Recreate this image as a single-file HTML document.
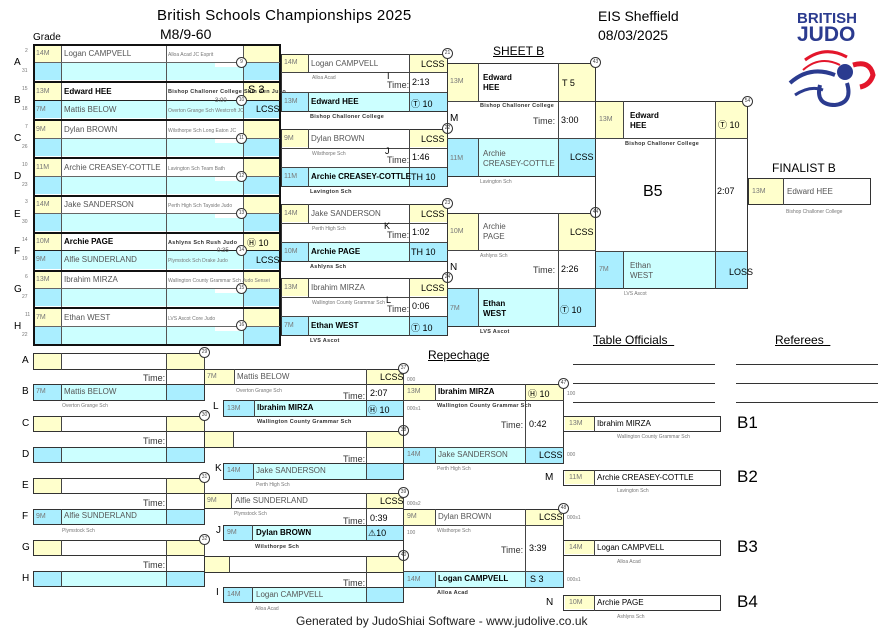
<!DOCTYPE html>
<html><head><meta charset="utf-8"><style>
*{margin:0;padding:0;box-sizing:border-box}
body{width:891px;height:630px;background:#fff;position:relative;overflow:hidden;font-family:"Liberation Sans","DejaVu Sans",sans-serif;color:#000}
div,span{position:absolute}
.y{background:#ffffcc}.c{background:#ccffff}.bl{background:#aaeeff}.w{background:#fff}
.bx{border:1px solid #333}
.g{font-size:7px;color:#777;padding-left:2px;line-height:18px}
.n{font-size:8px;color:#555;padding-left:3px;white-space:nowrap}
.nb{font-size:8px;font-weight:bold;color:#000;padding-left:3px;white-space:nowrap}
.s{font-size:5px;color:#555;white-space:nowrap}
.sb{font-size:5.5px;font-weight:bold;color:#333;white-space:nowrap;letter-spacing:.3px}
.cl{font-size:5px;color:#777;white-space:nowrap}
.ci{width:11px;height:11px;border:1px solid #333;border-radius:50%;background:#fff;font-size:5px;text-align:center;line-height:9px;color:#444}
.vl{width:1px;background:#444}
.hl{height:1px;background:#444}
.L{font-size:10px}
.t{font-size:9px;color:#333}
.sc{font-size:9px}
.tn{font-size:5px;color:#777}
</style></head><body>

<!-- header -->
<span style="left:157px;top:7px;font-size:15px;letter-spacing:.3px">British Schools Championships 2025</span>
<span style="left:160px;top:26px;font-size:14px">M8/9-60</span>
<span style="left:598px;top:8px;font-size:14px">EIS Sheffield</span>
<span style="left:598px;top:27px;font-size:14px">08/03/2025</span>
<span style="left:33px;top:32px;font-size:10px">Grade</span>
<span style="left:493px;top:44px;font-size:12px;text-decoration:underline">SHEET B</span>
<span style="left:797px;top:11px;font-size:15px;font-weight:bold;color:#2b3b8f;line-height:15px">BRITISH</span>
<span style="left:797px;top:24px;font-size:21px;font-weight:bold;color:#2b3b8f;line-height:21px">JUDO</span>
<svg style="position:absolute;left:785px;top:45px" width="95" height="65" viewBox="0 0 95 65">
<path d="M20 15 Q40 0 62 12" stroke="#e3162b" stroke-width="3" fill="none"/>
<path d="M18 25 Q35 10 55 20" stroke="#e3162b" stroke-width="2" fill="none"/>
<path d="M5 38 Q25 20 50 30" stroke="#2b3b8f" stroke-width="4" fill="none"/>
<path d="M35 40 Q30 60 50 60 Q68 58 62 38" stroke="#2b3b8f" stroke-width="4" fill="none"/>
<circle cx="60" cy="27" r="8" fill="#2b3b8f"/>
<path d="M68 20 Q85 15 88 30 Q85 40 75 42" stroke="#e3162b" stroke-width="5" fill="none"/>
<path d="M10 50 Q25 40 38 45" stroke="#2b3b8f" stroke-width="3" fill="none"/>
</svg>

<!-- POOL -->
<div style="left:33px;top:44px;width:248px;height:302px;border:2px solid #111"></div>
<!-- rows generated manually -->
<!-- A -->
<div class="y" style="left:35px;top:46px;width:26px;height:16px"></div>
<div class="y" style="left:243px;top:46px;width:36px;height:16px"></div>
<div class="bl" style="left:35px;top:63px;width:26px;height:17px"></div>
<div class="c" style="left:61px;top:63px;width:182px;height:17px"></div>
<div class="bl" style="left:243px;top:63px;width:36px;height:17px"></div>
<!-- B -->
<div class="y" style="left:35px;top:83px;width:26px;height:17px"></div>
<div class="y" style="left:243px;top:83px;width:36px;height:17px"></div>
<div class="bl" style="left:35px;top:101px;width:26px;height:17px"></div>
<div class="c" style="left:61px;top:101px;width:182px;height:17px"></div>
<div class="bl" style="left:243px;top:101px;width:36px;height:17px"></div>
<!-- C -->
<div class="y" style="left:35px;top:121px;width:26px;height:17px"></div>
<div class="y" style="left:243px;top:121px;width:36px;height:17px"></div>
<div class="bl" style="left:35px;top:139px;width:26px;height:17px"></div>
<div class="c" style="left:61px;top:139px;width:182px;height:17px"></div>
<div class="bl" style="left:243px;top:139px;width:36px;height:17px"></div>
<!-- D -->
<div class="y" style="left:35px;top:159px;width:26px;height:17px"></div>
<div class="y" style="left:243px;top:159px;width:36px;height:17px"></div>
<div class="bl" style="left:35px;top:177px;width:26px;height:17px"></div>
<div class="c" style="left:61px;top:177px;width:182px;height:17px"></div>
<div class="bl" style="left:243px;top:177px;width:36px;height:17px"></div>
<!-- E -->
<div class="y" style="left:35px;top:197px;width:26px;height:16px"></div>
<div class="y" style="left:243px;top:197px;width:36px;height:16px"></div>
<div class="bl" style="left:35px;top:214px;width:26px;height:17px"></div>
<div class="c" style="left:61px;top:214px;width:182px;height:17px"></div>
<div class="bl" style="left:243px;top:214px;width:36px;height:17px"></div>
<!-- F -->
<div class="y" style="left:35px;top:234px;width:26px;height:16px"></div>
<div class="y" style="left:243px;top:234px;width:36px;height:16px"></div>
<div class="bl" style="left:35px;top:251px;width:26px;height:18px"></div>
<div class="c" style="left:61px;top:251px;width:182px;height:18px"></div>
<div class="bl" style="left:243px;top:251px;width:36px;height:18px"></div>
<!-- G -->
<div class="y" style="left:35px;top:272px;width:26px;height:16px"></div>
<div class="y" style="left:243px;top:272px;width:36px;height:16px"></div>
<div class="bl" style="left:35px;top:289px;width:26px;height:17px"></div>
<div class="c" style="left:61px;top:289px;width:182px;height:17px"></div>
<div class="bl" style="left:243px;top:289px;width:36px;height:17px"></div>
<!-- H -->
<div class="y" style="left:35px;top:309px;width:26px;height:17px"></div>
<div class="y" style="left:243px;top:309px;width:36px;height:17px"></div>
<div class="bl" style="left:35px;top:327px;width:26px;height:17px"></div>
<div class="c" style="left:61px;top:327px;width:182px;height:17px"></div>
<div class="bl" style="left:243px;top:327px;width:36px;height:17px"></div>
<!-- grid lines -->
<div class="vl" style="left:61px;top:46px;height:298px;background:#555"></div>
<div class="vl" style="left:166px;top:46px;height:298px;background:#555"></div>
<div class="vl" style="left:243px;top:46px;height:298px;background:#555"></div>
<div style="left:35px;top:81px;width:245px;height:2px;background:#111"></div>
<div style="left:35px;top:119px;width:245px;height:2px;background:#111"></div>
<div style="left:35px;top:157px;width:245px;height:2px;background:#111"></div>
<div style="left:35px;top:195px;width:245px;height:2px;background:#111"></div>
<div style="left:35px;top:232px;width:245px;height:2px;background:#111"></div>
<div style="left:35px;top:270px;width:245px;height:2px;background:#111"></div>
<div style="left:35px;top:307px;width:245px;height:2px;background:#111"></div>
<div class="hl" style="left:35px;top:62px;width:245px;background:#666"></div>
<div class="hl" style="left:35px;top:100px;width:245px;background:#222"></div>
<div class="hl" style="left:35px;top:138px;width:245px;background:#666"></div>
<div class="hl" style="left:35px;top:176px;width:245px;background:#666"></div>
<div class="hl" style="left:35px;top:213px;width:245px;background:#666"></div>
<div class="hl" style="left:35px;top:250px;width:245px;background:#222"></div>
<div class="hl" style="left:35px;top:288px;width:245px;background:#666"></div>
<div class="hl" style="left:35px;top:326px;width:245px;background:#666"></div>
<!-- white time patches -->
<div class="w" style="left:215px;top:63px;width:27px;height:4px"></div>
<div class="w" style="left:215px;top:139px;width:27px;height:4px"></div>
<div class="w" style="left:215px;top:177px;width:27px;height:4px"></div>
<div class="w" style="left:215px;top:214px;width:27px;height:4px"></div>
<div class="w" style="left:215px;top:289px;width:27px;height:4px"></div>
<div class="w" style="left:215px;top:327px;width:27px;height:4px"></div>
<!-- pool letters & seeds -->
<span class="L" style="left:14px;top:57px">A</span><span class="tn" style="left:25px;top:48px">2</span><span class="tn" style="left:22px;top:68px">31</span>
<span class="L" style="left:14px;top:95px">B</span><span class="tn" style="left:22px;top:86px">15</span><span class="tn" style="left:22px;top:106px">18</span>
<span class="L" style="left:14px;top:133px">C</span><span class="tn" style="left:25px;top:124px">7</span><span class="tn" style="left:22px;top:144px">26</span>
<span class="L" style="left:14px;top:171px">D</span><span class="tn" style="left:22px;top:162px">10</span><span class="tn" style="left:22px;top:182px">23</span>
<span class="L" style="left:14px;top:209px">E</span><span class="tn" style="left:25px;top:199px">3</span><span class="tn" style="left:22px;top:219px">30</span>
<span class="L" style="left:14px;top:246px">F</span><span class="tn" style="left:22px;top:237px">14</span><span class="tn" style="left:22px;top:256px">19</span>
<span class="L" style="left:14px;top:284px">G</span><span class="tn" style="left:25px;top:274px">6</span><span class="tn" style="left:22px;top:294px">27</span>
<span class="L" style="left:14px;top:321px">H</span><span class="tn" style="left:25px;top:312px">11</span><span class="tn" style="left:22px;top:332px">22</span>
<!-- pool text -->
<span class="g" style="left:34px;top:45px">14M</span><span class="n" style="left:61px;top:49px">Logan CAMPVELL</span><span class="cl" style="left:168px;top:52px">Alloa Acad JC Esprit</span>
<span class="g" style="left:34px;top:83px">13M</span><span class="nb" style="left:61px;top:87px">Edward HEE</span><span class="sb" style="left:168px;top:89px">Bishop Challoner College Shin Sen Judo</span>
<span class="g" style="left:34px;top:101px">7M</span><span class="n" style="left:61px;top:105px">Mattis BELOW</span><span class="cl" style="left:168px;top:108px">Overton Grange Sch Westcroft JC</span>
<span class="s" style="left:215px;top:98px;font-size:6px">3:00</span><span style="left:248px;top:84px;font-size:11px">S 3</span><span class="sc" style="left:256px;top:104px">LCSS</span>
<span class="g" style="left:34px;top:121px">9M</span><span class="n" style="left:61px;top:125px">Dylan BROWN</span><span class="cl" style="left:168px;top:128px">Wilsthorpe Sch Long Eaton JC</span>
<span class="g" style="left:34px;top:159px">11M</span><span class="n" style="left:61px;top:163px">Archie CREASEY-COTTLE</span><span class="cl" style="left:168px;top:166px">Lavington Sch Team Bath</span>
<span class="g" style="left:34px;top:196px">14M</span><span class="n" style="left:61px;top:200px">Jake SANDERSON</span><span class="cl" style="left:168px;top:203px">Perth High Sch Tayside Judo</span>
<span class="g" style="left:34px;top:233px">10M</span><span class="nb" style="left:61px;top:237px">Archie PAGE</span><span class="sb" style="left:168px;top:240px">Ashlyns Sch Rush Judo</span>
<span class="s" style="left:217px;top:248px;font-size:6px">0:35</span><span class="sc" style="left:247px;top:236px">Ⓗ 10</span>
<span class="g" style="left:34px;top:251px">9M</span><span class="n" style="left:61px;top:255px">Alfie SUNDERLAND</span><span class="cl" style="left:168px;top:258px">Plymstock Sch Drake Judo</span><span class="sc" style="left:256px;top:255px">LCSS</span>
<span class="g" style="left:34px;top:271px">13M</span><span class="n" style="left:61px;top:275px">Ibrahim MIRZA</span><span class="cl" style="left:168px;top:278px">Wallington County Grammar Sch Judo Sensei</span>
<span class="g" style="left:34px;top:309px">7M</span><span class="n" style="left:61px;top:313px">Ethan WEST</span><span class="cl" style="left:168px;top:316px">LVS Ascot Core Judo</span>
<div class="ci" style="left:236px;top:57px">9</div>
<div class="ci" style="left:236px;top:95px">10</div>
<div class="ci" style="left:236px;top:133px">11</div>
<div class="ci" style="left:236px;top:171px">12</div>
<div class="ci" style="left:236px;top:208px">13</div>
<div class="ci" style="left:236px;top:245px">14</div>
<div class="ci" style="left:236px;top:283px">15</div>
<div class="ci" style="left:236px;top:320px">16</div>

<!-- ROUND 2 -->
<!-- M21 -->
<div class="bx" style="left:281px;top:54px;width:167px;height:58px"></div>
<div class="y" style="left:282px;top:55px;width:26px;height:17px"></div><div class="y" style="left:409px;top:55px;width:38px;height:17px"></div>
<div class="bl" style="left:282px;top:93px;width:26px;height:18px"></div><div class="c" style="left:308px;top:93px;width:101px;height:18px"></div><div class="bl" style="left:409px;top:93px;width:38px;height:18px"></div>
<div class="hl" style="left:281px;top:72px;width:167px"></div><div class="hl" style="left:281px;top:92px;width:167px"></div>
<div class="vl" style="left:308px;top:54px;height:18px"></div><div class="vl" style="left:308px;top:92px;height:20px"></div><div class="vl" style="left:409px;top:54px;height:58px"></div>
<span class="g" style="left:282px;top:54px">14M</span><span class="n" style="left:308px;top:59px">Logan CAMPVELL</span><span class="sc" style="left:421px;top:59px">LCSS</span>
<span class="cl" style="left:312px;top:75px">Alloa Acad</span><span style="left:387px;top:71px;font-size:9px">I</span><span class="t" style="left:387px;top:80px">Time:</span><span class="sc" style="left:412px;top:77px">2:13</span>
<span class="g" style="left:282px;top:93px">13M</span><span class="nb" style="left:308px;top:97px">Edward HEE</span><span class="sc" style="left:411px;top:97px">Ⓣ 10</span>
<span class="sb" style="left:310px;top:114px">Bishop Challoner College</span>
<div class="ci" style="left:442px;top:48px">21</div>
<!-- M22 -->
<div class="bx" style="left:281px;top:129px;width:167px;height:58px"></div>
<div class="y" style="left:282px;top:130px;width:26px;height:17px"></div><div class="y" style="left:409px;top:130px;width:38px;height:17px"></div>
<div class="bl" style="left:282px;top:168px;width:26px;height:18px"></div><div class="c" style="left:308px;top:168px;width:101px;height:18px"></div><div class="bl" style="left:409px;top:168px;width:38px;height:18px"></div>
<div class="hl" style="left:281px;top:148px;width:167px"></div><div class="hl" style="left:281px;top:167px;width:167px"></div>
<div class="vl" style="left:308px;top:129px;height:19px"></div><div class="vl" style="left:308px;top:167px;height:20px"></div><div class="vl" style="left:409px;top:129px;height:58px"></div>
<span class="g" style="left:282px;top:130px">9M</span><span class="n" style="left:308px;top:134px">Dylan BROWN</span><span class="sc" style="left:421px;top:134px">LCSS</span>
<span class="cl" style="left:312px;top:151px">Wilsthorpe Sch</span><span style="left:385px;top:146px;font-size:9px">J</span><span class="t" style="left:387px;top:155px">Time:</span><span class="sc" style="left:412px;top:152px">1:46</span>
<span class="g" style="left:282px;top:168px">11M</span><span class="nb" style="left:308px;top:172px">Archie CREASEY-COTTLE</span><span class="sc" style="left:411px;top:172px">TH 10</span>
<span class="sb" style="left:310px;top:189px">Lavington Sch</span>
<div class="ci" style="left:442px;top:123px">22</div>
<!-- M23 -->
<div class="bx" style="left:281px;top:204px;width:167px;height:58px"></div>
<div class="y" style="left:282px;top:205px;width:26px;height:17px"></div><div class="y" style="left:409px;top:205px;width:38px;height:17px"></div>
<div class="bl" style="left:282px;top:243px;width:26px;height:18px"></div><div class="c" style="left:308px;top:243px;width:101px;height:18px"></div><div class="bl" style="left:409px;top:243px;width:38px;height:18px"></div>
<div class="hl" style="left:281px;top:223px;width:167px"></div><div class="hl" style="left:281px;top:242px;width:167px"></div>
<div class="vl" style="left:308px;top:204px;height:19px"></div><div class="vl" style="left:308px;top:242px;height:20px"></div><div class="vl" style="left:409px;top:204px;height:58px"></div>
<span class="g" style="left:282px;top:205px">14M</span><span class="n" style="left:308px;top:209px">Jake SANDERSON</span><span class="sc" style="left:421px;top:209px">LCSS</span>
<span class="cl" style="left:312px;top:226px">Perth High Sch</span><span style="left:384px;top:221px;font-size:9px">K</span><span class="t" style="left:387px;top:230px">Time:</span><span class="sc" style="left:412px;top:227px">1:02</span>
<span class="g" style="left:282px;top:243px">10M</span><span class="nb" style="left:308px;top:247px">Archie PAGE</span><span class="sc" style="left:411px;top:247px">TH 10</span>
<span class="sb" style="left:310px;top:264px">Ashlyns Sch</span>
<div class="ci" style="left:442px;top:198px">23</div>
<!-- M24 -->
<div class="bx" style="left:281px;top:278px;width:167px;height:58px"></div>
<div class="y" style="left:282px;top:279px;width:26px;height:17px"></div><div class="y" style="left:409px;top:279px;width:38px;height:17px"></div>
<div class="bl" style="left:282px;top:317px;width:26px;height:18px"></div><div class="c" style="left:308px;top:317px;width:101px;height:18px"></div><div class="bl" style="left:409px;top:317px;width:38px;height:18px"></div>
<div class="hl" style="left:281px;top:297px;width:167px"></div><div class="hl" style="left:281px;top:316px;width:167px"></div>
<div class="vl" style="left:308px;top:278px;height:19px"></div><div class="vl" style="left:308px;top:316px;height:20px"></div><div class="vl" style="left:409px;top:278px;height:58px"></div>
<span class="g" style="left:282px;top:279px">13M</span><span class="n" style="left:308px;top:283px">Ibrahim MIRZA</span><span class="sc" style="left:421px;top:283px">LCSS</span>
<span class="cl" style="left:312px;top:300px">Wallington County Grammar Sch</span><span style="left:386px;top:295px;font-size:9px">L</span><span class="t" style="left:387px;top:304px">Time:</span><span class="sc" style="left:412px;top:301px">0:06</span>
<span class="g" style="left:282px;top:317px">7M</span><span class="nb" style="left:308px;top:321px">Ethan WEST</span><span class="sc" style="left:411px;top:321px">Ⓣ 10</span>
<span class="sb" style="left:310px;top:338px">LVS Ascot</span>
<div class="ci" style="left:442px;top:272px">24</div>

<!-- SEMIS -->
<div class="bx" style="left:447px;top:63px;width:149px;height:114px"></div>
<div class="y" style="left:448px;top:64px;width:30px;height:37px"></div><div class="y" style="left:558px;top:64px;width:37px;height:37px"></div>
<div class="bl" style="left:448px;top:139px;width:30px;height:37px"></div><div class="c" style="left:478px;top:139px;width:80px;height:37px"></div><div class="bl" style="left:558px;top:139px;width:37px;height:37px"></div>
<div class="hl" style="left:447px;top:101px;width:149px"></div><div class="hl" style="left:447px;top:138px;width:149px"></div>
<div class="vl" style="left:478px;top:63px;height:38px"></div><div class="vl" style="left:478px;top:138px;height:39px"></div><div class="vl" style="left:558px;top:63px;height:114px"></div>
<span class="g" style="left:448px;top:73px">13M</span><span class="nb" style="left:480px;top:73px;line-height:10px">Edward<br>HEE</span><span class="sc" style="left:562px;top:78px">T 5</span>
<span class="sb" style="left:480px;top:103px">Bishop Challoner College</span><span class="L" style="left:450px;top:113px">M</span><span class="t" style="left:533px;top:116px">Time:</span><span class="sc" style="left:561px;top:115px">3:00</span>
<span class="g" style="left:448px;top:150px">11M</span><span class="n" style="left:480px;top:149px;line-height:10px">Archie<br>CREASEY-COTTLE</span><span class="sc" style="left:570px;top:152px">LCSS</span>
<span class="cl" style="left:480px;top:179px">Lavington Sch</span>
<div class="ci" style="left:590px;top:57px">43</div>
<div class="bx" style="left:447px;top:213px;width:149px;height:114px"></div>
<div class="y" style="left:448px;top:214px;width:30px;height:36px"></div><div class="y" style="left:558px;top:214px;width:37px;height:36px"></div>
<div class="bl" style="left:448px;top:289px;width:30px;height:37px"></div><div class="c" style="left:478px;top:289px;width:80px;height:37px"></div><div class="bl" style="left:558px;top:289px;width:37px;height:37px"></div>
<div class="hl" style="left:447px;top:250px;width:149px"></div><div class="hl" style="left:447px;top:288px;width:149px"></div>
<div class="vl" style="left:478px;top:213px;height:37px"></div><div class="vl" style="left:478px;top:288px;height:39px"></div><div class="vl" style="left:558px;top:213px;height:114px"></div>
<span class="g" style="left:448px;top:223px">10M</span><span class="n" style="left:480px;top:222px;line-height:10px">Archie<br>PAGE</span><span class="sc" style="left:570px;top:227px">LCSS</span>
<span class="cl" style="left:480px;top:253px">Ashlyns Sch</span><span class="L" style="left:450px;top:262px">N</span><span class="t" style="left:533px;top:265px">Time:</span><span class="sc" style="left:561px;top:264px">2:26</span>
<span class="g" style="left:448px;top:300px">7M</span><span class="nb" style="left:480px;top:299px;line-height:10px">Ethan<br>WEST</span><span class="sc" style="left:560px;top:303px">Ⓣ 10</span>
<span class="sb" style="left:480px;top:329px">LVS Ascot</span>
<div class="ci" style="left:590px;top:207px">44</div>

<!-- FINAL -->
<div class="bx" style="left:595px;top:101px;width:153px;height:188px"></div>
<div class="y" style="left:596px;top:102px;width:27px;height:36px"></div><div class="y" style="left:715px;top:102px;width:32px;height:36px"></div>
<div class="bl" style="left:596px;top:252px;width:27px;height:36px"></div><div class="c" style="left:623px;top:252px;width:92px;height:36px"></div><div class="bl" style="left:715px;top:252px;width:32px;height:36px"></div>
<div class="hl" style="left:595px;top:138px;width:153px"></div><div class="hl" style="left:595px;top:251px;width:153px"></div>
<div class="vl" style="left:623px;top:101px;height:37px"></div><div class="vl" style="left:623px;top:251px;height:38px"></div><div class="vl" style="left:715px;top:101px;height:188px"></div>
<span class="g" style="left:597px;top:111px">13M</span><span class="nb" style="left:627px;top:111px;line-height:10px">Edward<br>HEE</span><span class="sc" style="left:718px;top:118px">Ⓣ 10</span>
<span class="sb" style="left:625px;top:141px">Bishop Challoner College</span>
<span style="left:643px;top:183px;font-size:16px">B5</span><span class="sc" style="left:717px;top:186px">2:07</span>
<span class="g" style="left:597px;top:261px">7M</span><span class="n" style="left:627px;top:261px;line-height:10px">Ethan<br>WEST</span><span class="sc" style="left:729px;top:267px">LOSS</span>
<span class="cl" style="left:624px;top:291px">LVS Ascot</span>
<div class="ci" style="left:742px;top:96px">54</div>

<span style="left:772px;top:161px;font-size:12px">FINALIST B</span>
<div class="bx" style="left:748px;top:178px;width:123px;height:27px;border-width:1.5px"></div>
<div class="y" style="left:749px;top:179px;width:34px;height:25px"></div><div class="vl" style="left:783px;top:178px;height:27px"></div>
<span class="g" style="left:750px;top:183px">13M</span><span class="n" style="left:784px;top:187px">Edward HEE</span>
<span class="cl" style="left:786px;top:209px">Bishop Challoner College</span>

<!-- REPECHAGE -->
<span style="left:428px;top:348px;font-size:12px;text-decoration:underline">Repechage</span>
<!-- left column helper: A/B -->
<!-- pattern: top row yellow (y), bottom row blue -->
<div class="bx" style="left:33px;top:353px;width:172px;height:17px"></div><div class="y" style="left:34px;top:354px;width:27px;height:15px"></div><div class="y" style="left:166px;top:354px;width:38px;height:15px"></div><div class="vl" style="left:61px;top:353px;height:17px"></div><div class="vl" style="left:166px;top:353px;height:47px"></div><div class="vl" style="left:204px;top:353px;height:47px"></div>
<div class="bx" style="left:33px;top:384px;width:172px;height:17px"></div><div class="bl" style="left:34px;top:385px;width:27px;height:15px"></div><div class="c" style="left:61px;top:385px;width:105px;height:15px"></div><div class="bl" style="left:167px;top:385px;width:37px;height:15px"></div><div class="vl" style="left:61px;top:384px;height:17px"></div>
<span class="t" style="left:143px;top:373px">Time:</span><span class="L" style="left:22px;top:355px">A</span><span class="L" style="left:22px;top:386px">B</span>
<span class="g" style="left:34px;top:383px">7M</span><span class="n" style="left:61px;top:387px">Mattis BELOW</span><span class="cl" style="left:62px;top:403px">Overton Grange Sch</span>
<div class="ci" style="left:199px;top:347px">29</div>

<div class="bx" style="left:33px;top:416px;width:172px;height:16px"></div><div class="y" style="left:34px;top:417px;width:27px;height:14px"></div><div class="y" style="left:166px;top:417px;width:38px;height:14px"></div><div class="vl" style="left:61px;top:416px;height:16px"></div><div class="vl" style="left:166px;top:416px;height:47px"></div><div class="vl" style="left:204px;top:416px;height:47px"></div>
<div class="bx" style="left:33px;top:447px;width:172px;height:16px"></div><div class="bl" style="left:34px;top:448px;width:27px;height:14px"></div><div class="c" style="left:61px;top:448px;width:105px;height:14px"></div><div class="bl" style="left:167px;top:448px;width:37px;height:14px"></div><div class="vl" style="left:61px;top:447px;height:16px"></div>
<span class="t" style="left:143px;top:436px">Time:</span><span class="L" style="left:22px;top:418px">C</span><span class="L" style="left:22px;top:449px">D</span>
<div class="ci" style="left:199px;top:410px">30</div>

<div class="bx" style="left:33px;top:478px;width:172px;height:16px"></div><div class="y" style="left:34px;top:479px;width:27px;height:14px"></div><div class="y" style="left:166px;top:479px;width:38px;height:14px"></div><div class="vl" style="left:61px;top:478px;height:16px"></div><div class="vl" style="left:166px;top:478px;height:47px"></div><div class="vl" style="left:204px;top:478px;height:47px"></div>
<div class="bx" style="left:33px;top:509px;width:172px;height:16px"></div><div class="bl" style="left:34px;top:510px;width:27px;height:14px"></div><div class="c" style="left:61px;top:510px;width:105px;height:14px"></div><div class="bl" style="left:167px;top:510px;width:37px;height:14px"></div><div class="vl" style="left:61px;top:509px;height:16px"></div>
<span class="t" style="left:143px;top:498px">Time:</span><span class="L" style="left:22px;top:480px">E</span><span class="L" style="left:22px;top:511px">F</span>
<span class="g" style="left:34px;top:508px">9M</span><span class="n" style="left:61px;top:511px">Alfie SUNDERLAND</span><span class="cl" style="left:62px;top:528px">Plymstock Sch</span>
<div class="ci" style="left:199px;top:472px">31</div>

<div class="bx" style="left:33px;top:540px;width:172px;height:16px"></div><div class="y" style="left:34px;top:541px;width:27px;height:14px"></div><div class="y" style="left:166px;top:541px;width:38px;height:14px"></div><div class="vl" style="left:61px;top:540px;height:16px"></div><div class="vl" style="left:166px;top:540px;height:47px"></div><div class="vl" style="left:204px;top:540px;height:47px"></div>
<div class="bx" style="left:33px;top:571px;width:172px;height:16px"></div><div class="bl" style="left:34px;top:572px;width:27px;height:14px"></div><div class="c" style="left:61px;top:572px;width:105px;height:14px"></div><div class="bl" style="left:167px;top:572px;width:37px;height:14px"></div><div class="vl" style="left:61px;top:571px;height:16px"></div>
<span class="t" style="left:143px;top:560px">Time:</span><span class="L" style="left:22px;top:542px">G</span><span class="L" style="left:22px;top:573px">H</span>
<div class="ci" style="left:199px;top:534px">32</div>

<!-- repechage column 2 -->
<!-- 37 -->
<div class="bx" style="left:204px;top:369px;width:200px;height:16px"></div><div class="y" style="left:205px;top:370px;width:29px;height:14px"></div><div class="y" style="left:366px;top:370px;width:37px;height:14px"></div><div class="vl" style="left:234px;top:369px;height:16px"></div><div class="vl" style="left:366px;top:369px;height:47px"></div><div class="vl" style="left:403px;top:369px;height:47px"></div>
<div class="bx" style="left:223px;top:400px;width:181px;height:17px"></div><div class="bl" style="left:224px;top:401px;width:30px;height:15px"></div><div class="c" style="left:254px;top:401px;width:112px;height:15px"></div><div class="bl" style="left:367px;top:401px;width:36px;height:15px"></div><div class="vl" style="left:254px;top:400px;height:17px"></div>
<span class="g" style="left:205px;top:368px">7M</span><span class="n" style="left:234px;top:372px">Mattis BELOW</span><span class="sc" style="left:380px;top:372px">LCSS</span><span class="cl" style="left:236px;top:388px">Overton Grange Sch</span>
<span class="t" style="left:343px;top:391px">Time:</span><span class="sc" style="left:370px;top:388px">2:07</span>
<span class="L" style="left:213px;top:401px">L</span><span class="g" style="left:225px;top:400px">13M</span><span class="nb" style="left:254px;top:403px">Ibrahim MIRZA</span><span class="sc" style="left:368px;top:403px">Ⓗ 10</span>
<span class="sb" style="left:257px;top:419px">Wallington County Grammar Sch</span>
<span class="tn" style="left:407px;top:377px">000</span><span class="tn" style="left:407px;top:406px">000s1</span>
<div class="ci" style="left:398px;top:363px">37</div>
<!-- 38 -->
<div class="bx" style="left:204px;top:431px;width:200px;height:17px"></div><div class="y" style="left:205px;top:432px;width:28px;height:15px"></div><div class="y" style="left:366px;top:432px;width:37px;height:15px"></div><div class="vl" style="left:233px;top:431px;height:17px"></div><div class="vl" style="left:366px;top:431px;height:48px"></div><div class="vl" style="left:403px;top:431px;height:48px"></div>
<div class="bx" style="left:223px;top:463px;width:181px;height:17px"></div><div class="bl" style="left:224px;top:464px;width:29px;height:15px"></div><div class="c" style="left:253px;top:464px;width:113px;height:15px"></div><div class="bl" style="left:367px;top:464px;width:36px;height:15px"></div><div class="vl" style="left:253px;top:463px;height:17px"></div>
<span class="t" style="left:343px;top:454px">Time:</span>
<span class="L" style="left:215px;top:463px">K</span><span class="g" style="left:225px;top:462px">14M</span><span class="n" style="left:253px;top:466px">Jake SANDERSON</span>
<span class="cl" style="left:256px;top:482px">Perth High Sch</span>
<div class="ci" style="left:398px;top:425px">38</div>
<!-- 39 -->
<div class="bx" style="left:204px;top:493px;width:200px;height:16px"></div><div class="y" style="left:205px;top:494px;width:26px;height:14px"></div><div class="y" style="left:366px;top:494px;width:37px;height:14px"></div><div class="vl" style="left:231px;top:493px;height:16px"></div><div class="vl" style="left:366px;top:493px;height:48px"></div><div class="vl" style="left:403px;top:493px;height:48px"></div>
<div class="bx" style="left:223px;top:525px;width:181px;height:16px"></div><div class="bl" style="left:224px;top:526px;width:28px;height:14px"></div><div class="c" style="left:252px;top:526px;width:114px;height:14px"></div><div class="bl" style="left:367px;top:526px;width:36px;height:14px"></div><div class="vl" style="left:252px;top:525px;height:16px"></div>
<span class="g" style="left:205px;top:492px">9M</span><span class="n" style="left:232px;top:496px">Alfie SUNDERLAND</span><span class="sc" style="left:380px;top:496px">LCSS</span><span class="cl" style="left:234px;top:511px">Plymstock Sch</span>
<span class="t" style="left:343px;top:516px">Time:</span><span class="sc" style="left:370px;top:513px">0:39</span>
<span class="L" style="left:216px;top:525px">J</span><span class="g" style="left:225px;top:524px">9M</span><span class="nb" style="left:253px;top:528px">Dylan BROWN</span><span class="sc" style="left:368px;top:528px">⚠10</span>
<span class="sb" style="left:255px;top:544px">Wilsthorpe Sch</span>
<span class="tn" style="left:407px;top:501px">000s2</span><span class="tn" style="left:407px;top:530px">100</span>
<div class="ci" style="left:398px;top:487px">39</div>
<!-- 40 -->
<div class="bx" style="left:204px;top:556px;width:200px;height:17px"></div><div class="y" style="left:205px;top:557px;width:24px;height:15px"></div><div class="y" style="left:366px;top:557px;width:37px;height:15px"></div><div class="vl" style="left:229px;top:556px;height:17px"></div><div class="vl" style="left:366px;top:556px;height:47px"></div><div class="vl" style="left:403px;top:556px;height:47px"></div>
<div class="bx" style="left:223px;top:587px;width:181px;height:16px"></div><div class="bl" style="left:224px;top:588px;width:28px;height:14px"></div><div class="c" style="left:252px;top:588px;width:114px;height:14px"></div><div class="bl" style="left:367px;top:588px;width:36px;height:14px"></div><div class="vl" style="left:252px;top:587px;height:16px"></div>
<span class="t" style="left:343px;top:578px">Time:</span>
<span class="L" style="left:216px;top:587px">I</span><span class="g" style="left:225px;top:586px">14M</span><span class="n" style="left:253px;top:590px">Logan CAMPVELL</span>
<span class="cl" style="left:255px;top:606px">Alloa Acad</span>
<div class="ci" style="left:398px;top:550px">40</div>

<!-- repechage column 3 -->
<div class="bx" style="left:403px;top:384px;width:161px;height:80px"></div>
<div class="y" style="left:404px;top:385px;width:31px;height:15px"></div><div class="y" style="left:525px;top:385px;width:38px;height:15px"></div>
<div class="bl" style="left:404px;top:448px;width:31px;height:15px"></div><div class="c" style="left:435px;top:448px;width:90px;height:15px"></div><div class="bl" style="left:526px;top:448px;width:37px;height:15px"></div>
<div class="hl" style="left:403px;top:400px;width:161px"></div><div class="hl" style="left:403px;top:447px;width:161px"></div>
<div class="vl" style="left:435px;top:384px;height:16px"></div><div class="vl" style="left:435px;top:447px;height:17px"></div><div class="vl" style="left:525px;top:384px;height:80px"></div>
<span class="g" style="left:405px;top:383px">13M</span><span class="nb" style="left:435px;top:387px">Ibrahim MIRZA</span><span class="sc" style="left:528px;top:387px">Ⓗ 10</span>
<span class="sb" style="left:437px;top:403px">Wallington County Grammar Sch</span>
<span class="t" style="left:501px;top:420px">Time:</span><span class="sc" style="left:529px;top:419px">0:42</span>
<span class="g" style="left:405px;top:446px">14M</span><span class="n" style="left:435px;top:450px">Jake SANDERSON</span><span class="sc" style="left:539px;top:450px">LCSS</span>
<span class="cl" style="left:437px;top:466px">Perth High Sch</span>
<span class="tn" style="left:567px;top:391px">100</span><span class="tn" style="left:567px;top:452px">000</span>
<div class="ci" style="left:558px;top:378px">47</div>

<div class="bx" style="left:403px;top:509px;width:161px;height:79px"></div>
<div class="y" style="left:404px;top:510px;width:31px;height:15px"></div><div class="y" style="left:525px;top:510px;width:38px;height:15px"></div>
<div class="bl" style="left:404px;top:572px;width:31px;height:15px"></div><div class="c" style="left:435px;top:572px;width:90px;height:15px"></div><div class="bl" style="left:526px;top:572px;width:37px;height:15px"></div>
<div class="hl" style="left:403px;top:525px;width:161px"></div><div class="hl" style="left:403px;top:571px;width:161px"></div>
<div class="vl" style="left:435px;top:509px;height:16px"></div><div class="vl" style="left:435px;top:571px;height:17px"></div><div class="vl" style="left:525px;top:509px;height:79px"></div>
<span class="g" style="left:405px;top:508px">9M</span><span class="n" style="left:435px;top:512px">Dylan BROWN</span><span class="sc" style="left:539px;top:512px">LCSS</span>
<span class="cl" style="left:437px;top:528px">Wilsthorpe Sch</span>
<span class="t" style="left:501px;top:545px">Time:</span><span class="sc" style="left:529px;top:543px">3:39</span>
<span class="g" style="left:405px;top:571px">14M</span><span class="nb" style="left:435px;top:574px">Logan CAMPVELL</span><span class="sc" style="left:530px;top:574px">S 3</span>
<span class="sb" style="left:437px;top:590px">Alloa Acad</span>
<span class="tn" style="left:567px;top:515px">000s1</span><span class="tn" style="left:567px;top:577px">000s1</span>
<div class="ci" style="left:558px;top:503px">48</div>

<!-- officials -->
<span style="left:593px;top:333px;font-size:12px;text-decoration:underline">Table Officials&nbsp;&nbsp;</span>
<span style="left:775px;top:333px;font-size:12px;text-decoration:underline">Referees&nbsp;&nbsp;</span>
<div class="hl" style="left:573px;top:364px;width:142px;background:#333"></div>
<div class="hl" style="left:573px;top:383px;width:142px;background:#333"></div>
<div class="hl" style="left:573px;top:402px;width:142px;background:#333"></div>
<div class="hl" style="left:736px;top:364px;width:142px;background:#333"></div>
<div class="hl" style="left:736px;top:383px;width:142px;background:#333"></div>
<div class="hl" style="left:736px;top:402px;width:142px;background:#333"></div>

<!-- bronze -->
<div class="bx" style="left:563px;top:416px;width:158px;height:16px;border-width:1.5px"></div><div class="y" style="left:565px;top:417px;width:29px;height:13px"></div><div class="vl" style="left:594px;top:416px;height:16px"></div>
<span class="g" style="left:567px;top:415px">13M</span><span class="n" style="left:594px;top:419px;color:#000">Ibrahim MIRZA</span><span class="cl" style="left:617px;top:434px">Wallington County Grammar Sch</span>
<span style="left:737px;top:413px;font-size:17px">B1</span>
<span class="L" style="left:545px;top:472px">M</span>
<div class="bx" style="left:563px;top:470px;width:158px;height:16px;border-width:1.5px"></div><div class="y" style="left:565px;top:471px;width:29px;height:13px"></div><div class="vl" style="left:594px;top:470px;height:16px"></div>
<span class="g" style="left:567px;top:469px">11M</span><span class="n" style="left:594px;top:473px;color:#000">Archie CREASEY-COTTLE</span><span class="cl" style="left:617px;top:488px">Lavington Sch</span>
<span style="left:737px;top:467px;font-size:17px">B2</span>
<div class="bx" style="left:563px;top:540px;width:158px;height:16px;border-width:1.5px"></div><div class="y" style="left:565px;top:541px;width:29px;height:13px"></div><div class="vl" style="left:594px;top:540px;height:16px"></div>
<span class="g" style="left:567px;top:539px">14M</span><span class="n" style="left:594px;top:543px;color:#000">Logan CAMPVELL</span><span class="cl" style="left:617px;top:559px">Alloa Acad</span>
<span style="left:737px;top:537px;font-size:17px">B3</span>
<span class="L" style="left:546px;top:597px">N</span>
<div class="bx" style="left:563px;top:595px;width:158px;height:16px;border-width:1.5px"></div><div class="y" style="left:565px;top:596px;width:29px;height:13px"></div><div class="vl" style="left:594px;top:595px;height:16px"></div>
<span class="g" style="left:567px;top:594px">10M</span><span class="n" style="left:594px;top:598px;color:#000">Archie PAGE</span><span class="cl" style="left:617px;top:614px">Ashlyns Sch</span>
<span style="left:737px;top:592px;font-size:17px">B4</span>

<span style="left:296px;top:614px;font-size:12px;color:#222">Generated by JudoShiai Software - www.judolive.co.uk</span>
</body></html>
